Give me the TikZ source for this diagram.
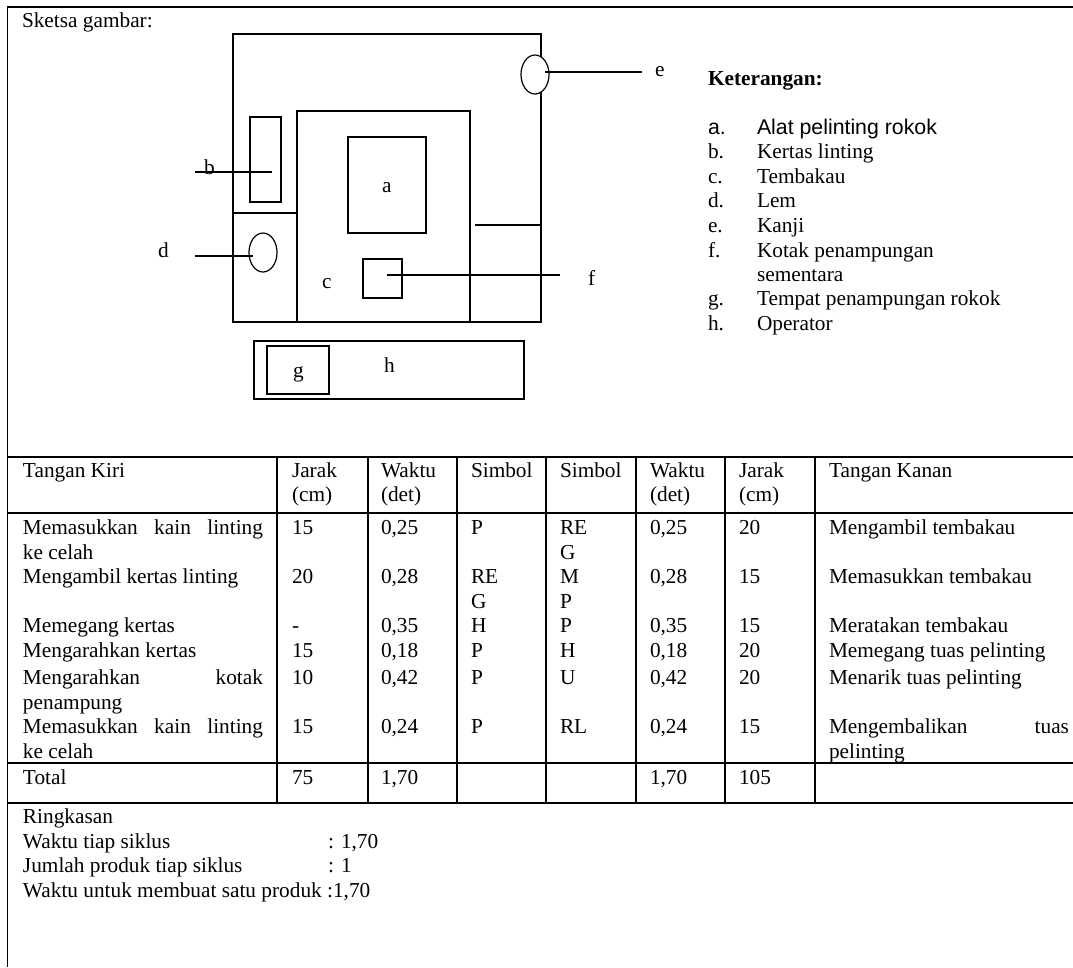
\documentclass[tikz,border=0pt]{standalone}
\usepackage{fontspec}
\setmainfont{Liberation Serif}
\newfontfamily\armo{Liberation Sans}
\usetikzlibrary{shapes.geometric}
\newcount\tc
\newcommand{\tx}[3]{\global\advance\tc by 1 \node[lbl] (t\the\tc) at (#1,#2) {#3};}
\newcommand{\js}[3]{\hbox to 240pt{#1\hfill #2\hfill #3}}
\tikzset{
 x=1pt,y=-1pt,
 lbl/.style={anchor=base west,inner sep=0pt,outer sep=0pt,font=\fontsize{21.3}{24}\selectfont,text=black},
 frame/.style={line width=1.7pt,black},
 rbox/.style={draw,line width=1.2pt,inner sep=0pt,outer sep=0pt,anchor=north west},
 oval/.style={ellipse,draw,line width=1.2pt,inner sep=0pt,outer sep=0pt,fill=white},
 wire/.style={line width=1.2pt},
}
\begin{document}
\begin{tikzpicture}
\useasboundingbox (0,0) rectangle (1073,967);
% frame
\draw[frame] (7.5,967) -- (7.5,7) -- (1073,7);
\draw[frame] (7.5,457) -- (1073,457);
\draw[frame] (7.5,513) -- (1073,513);
\draw[frame] (7.5,763) -- (1073,763);
\draw[frame] (7.5,803) -- (1073,803);
\foreach \cx in {277,368,457,546,636,725,815}{\draw[frame] (\cx,457) -- (\cx,803);}
% sketch
\node[rbox,minimum width=308pt,minimum height=288pt] (outer) at (233,34) {};
\node[rbox,minimum width=173pt,minimum height=211pt] (inner) at (297,111) {};
\node[rbox,minimum width=78pt,minimum height=96pt] (ra) at (348,137) {};
\node[rbox,minimum width=31pt,minimum height=85pt] (rb) at (250,117) {};
\node[rbox,minimum width=39pt,minimum height=39pt] (rf) at (363,259) {};
\node[rbox,minimum width=270pt,minimum height=58pt] (rh) at (254,341) {};
\node[rbox,minimum width=62pt,minimum height=48pt] (rg) at (267,346) {};
\node[oval,minimum width=28pt,minimum height=39pt] (od) at (263,252.5) {};
\node[oval,minimum width=28pt,minimum height=39pt] (oe) at (535,74.5) {};
\coordinate (b1) at (195,172); \coordinate (b2) at (272,172);
\coordinate (d1) at (195,256); \coordinate (d2) at (253,256);
\coordinate (e1) at (545,72); \coordinate (e2) at (642,72);
\coordinate (f1) at (387,275); \coordinate (f2) at (560,275);
\coordinate (p1) at (233,213); \coordinate (p2) at (298,213);
\coordinate (q1) at (475,225); \coordinate (q2) at (541,225);
\draw[wire] (b1) -- (b2);
\draw[wire] (d1) -- (d2);
\draw[wire] (e1) -- (e2);
\draw[wire] (f1) -- (f2);
\draw[wire] (p1) -- (p2);
\draw[wire] (q1) -- (q2);
\tx{22}{27}{Sketsa gambar:}
\tx{382}{192}{a}
\tx{204}{174}{b}
\tx{322}{288}{c}
\tx{158}{257}{d}
\tx{655}{76}{e}
\tx{588}{285}{f}
\tx{293}{377}{g}
\tx{384}{372}{h}
% legend
\tx{708}{85}{\textbf{Keterangan:}}
\tx{708}{134}{\armo a.}
\tx{757}{134}{\armo Alat pelinting rokok}
\tx{708}{158}{b.}\tx{757}{158}{Kertas linting}
\tx{708}{183}{c.}\tx{757}{183}{Tembakau}
\tx{708}{207}{d.}\tx{757}{207}{Lem}
\tx{708}{232}{e.}\tx{757}{232}{Kanji}
\tx{708}{257}{f.}\tx{757}{257}{Kotak penampungan}
\tx{757}{281}{sementara}
\tx{708}{305}{g.}\tx{757}{305}{Tempat penampungan rokok}
\tx{708}{330}{h.}\tx{757}{330}{Operator}
% table header
\tx{23}{477}{Tangan Kiri}
\tx{292}{477}{Jarak}\tx{292}{501}{(cm)}
\tx{381}{477}{Waktu}\tx{381}{501}{(det)}
\tx{471}{477}{Simbol}
\tx{560}{477}{Simbol}
\tx{650}{477}{Waktu}\tx{650}{501}{(det)}
\tx{739}{477}{Jarak}\tx{739}{501}{(cm)}
\tx{829}{477}{Tangan Kanan}
% rows
\tx{23}{534}{\js{Memasukkan}{kain}{linting}}\tx{23}{559}{ke celah}
\tx{292}{534}{15}\tx{381}{534}{0,25}\tx{471}{534}{P}
\tx{560}{534}{RE}\tx{560}{559}{G}\tx{650}{534}{0,25}\tx{739}{534}{20}\tx{829}{534}{Mengambil tembakau}
\tx{23}{583}{Mengambil kertas linting}
\tx{292}{583}{20}\tx{381}{583}{0,28}\tx{471}{583}{RE}\tx{471}{608}{G}
\tx{560}{583}{M}\tx{560}{608}{P}\tx{650}{583}{0,28}\tx{739}{583}{15}\tx{829}{583}{Memasukkan tembakau}
\tx{23}{632}{Memegang kertas}
\tx{292}{632}{-}\tx{381}{632}{0,35}\tx{471}{632}{H}
\tx{560}{632}{P}\tx{650}{632}{0,35}\tx{739}{632}{15}\tx{829}{632}{Meratakan tembakau}
\tx{23}{657}{Mengarahkan kertas}
\tx{292}{657}{15}\tx{381}{657}{0,18}\tx{471}{657}{P}
\tx{560}{657}{H}\tx{650}{657}{0,18}\tx{739}{657}{20}\tx{829}{657}{Memegang tuas pelinting}
\tx{23}{684}{\hbox to 240pt{Mengarahkan\hfill kotak}}\tx{23}{709}{penampung}
\tx{292}{684}{10}\tx{381}{684}{0,42}\tx{471}{684}{P}
\tx{560}{684}{U}\tx{650}{684}{0,42}\tx{739}{684}{20}\tx{829}{684}{Menarik tuas pelinting}
\tx{23}{733}{\js{Memasukkan}{kain}{linting}}\tx{23}{758}{ke celah}
\tx{292}{733}{15}\tx{381}{733}{0,24}\tx{471}{733}{P}
\tx{560}{733}{RL}\tx{650}{733}{0,24}\tx{739}{733}{15}
\tx{829}{733}{\hbox to 240pt{Mengembalikan\hfill tuas}}\tx{829}{758}{pelinting}
\tx{23}{784}{Total}\tx{292}{784}{75}\tx{381}{784}{1,70}\tx{650}{784}{1,70}\tx{739}{784}{105}
% summary
\tx{23}{823}{Ringkasan}
\tx{23}{848}{Waktu tiap siklus}\tx{328}{848}{: 1,70}
\tx{23}{872}{Jumlah produk tiap siklus}\tx{328}{872}{: 1}
\tx{23}{897}{Waktu untuk membuat satu produk :1,70}
\end{tikzpicture}
\end{document}
